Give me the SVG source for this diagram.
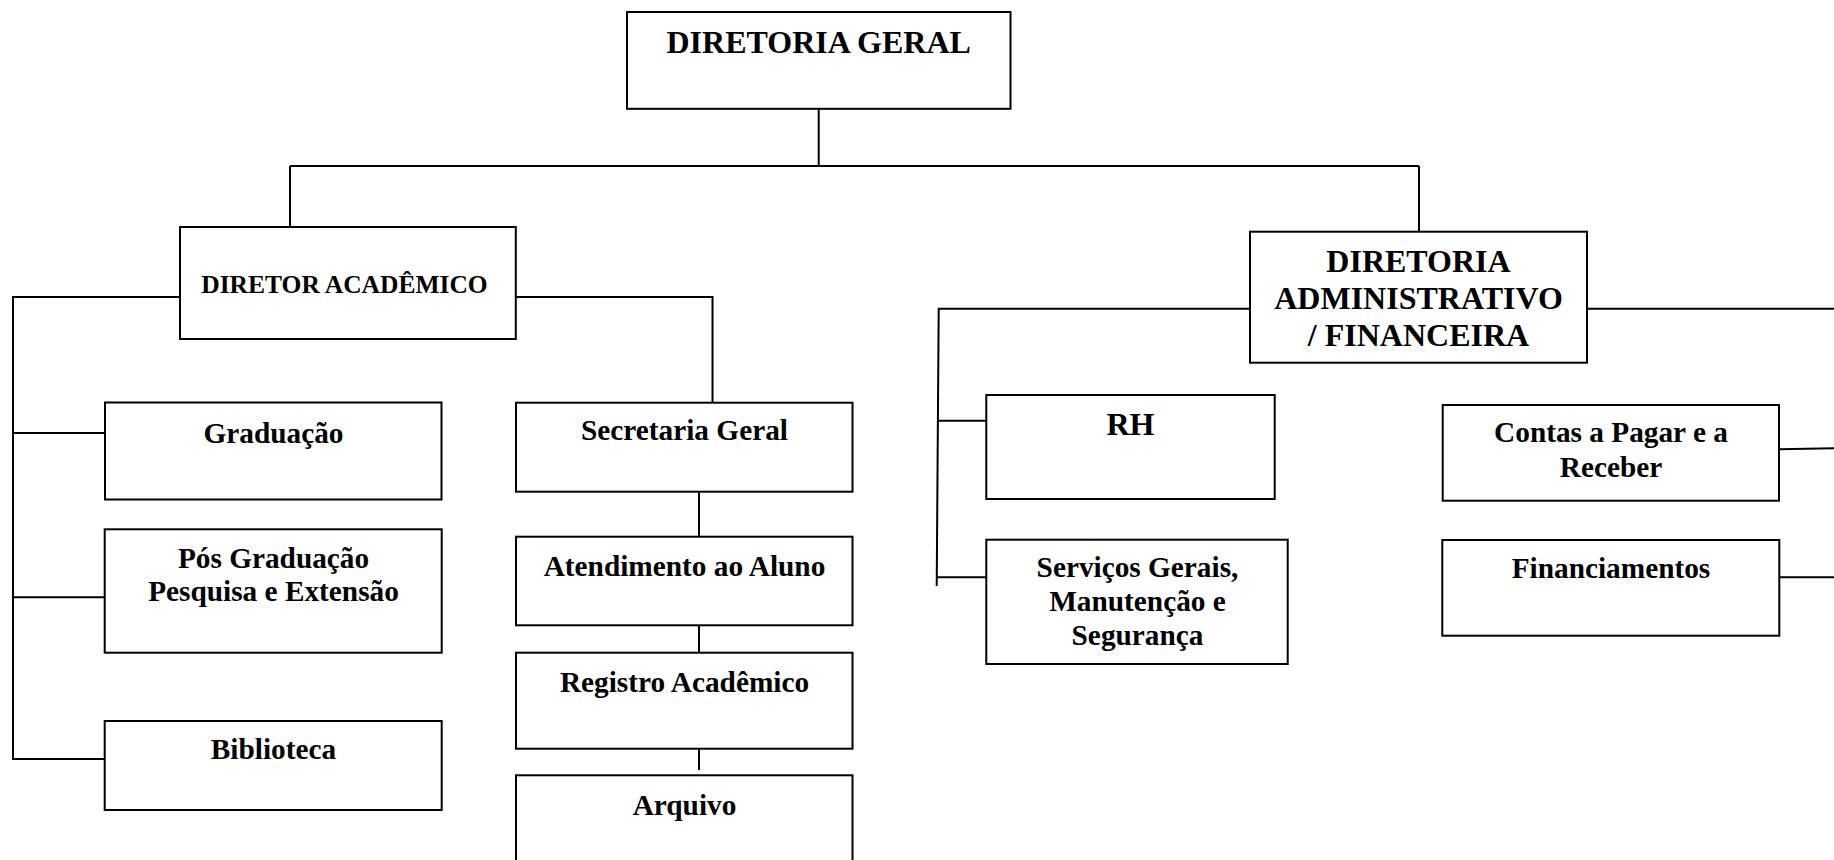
<svg xmlns="http://www.w3.org/2000/svg" width="1834" height="860" viewBox="0 0 1834 860">
<style>
.box{fill:#fff;stroke:#000;stroke-width:2}
.ln{fill:none;stroke:#000;stroke-width:2}
text{font-family:"Liberation Serif","Times New Roman",serif;font-weight:bold;fill:#000;text-anchor:middle}
.t29{font-size:29.3px}
.t32{font-size:32px}
.t25{font-size:25.5px}
</style>
<rect width="1834" height="860" fill="#fff"/>
<g id="connectors">
<path class="ln" d="M818.7,108.8 V166 M290,166 H1419 M290,166 V227 M1419,166 V231.6"/>
<path class="ln" d="M180,297 H13 V759 H104.7 M13,433 H105 M13,597.3 H104.7"/>
<path class="ln" d="M516,297 H712.5 V402.7"/>
<path class="ln" d="M699,491.7 V538 M699,625.3 V652.7 M699,745 V770"/>
<path class="ln" d="M1250,308.7 H938.7 L936.7,586 M938.2,420.7 H986.3 M937,577.3 H986.3"/>
<path class="ln" d="M1587,308.7 H1834 M1779,449.3 L1834,448.3 M1779.3,577.3 H1834"/>
</g>
<g id="n-diretoria-geral">
<rect class="box" x="627" y="12" width="383.5" height="96.8"/>
<text class="t32" x="818.7" y="52.7">DIRETORIA GERAL</text>
</g>
<g id="n-diretor-academico">
<rect class="box" x="180" y="227" width="335.8" height="112"/>
<text class="t25" x="344.5" y="293">DIRETOR ACADÊMICO</text>
</g>
<g id="n-graduacao">
<rect class="box" x="105" y="402.5" width="336.5" height="97"/>
<text class="t29" x="273.5" y="443">Graduação</text>
</g>
<g id="n-pos">
<rect class="box" x="104.7" y="529.3" width="337" height="123.4"/>
<text class="t29" x="273.5" y="568.3">Pós Graduação</text>
<text class="t29" x="273.5" y="601.3">Pesquisa e Extensão</text>
</g>
<g id="n-biblioteca">
<rect class="box" x="104.7" y="721" width="337" height="89"/>
<text class="t29" x="273.5" y="759.3">Biblioteca</text>
</g>
<g id="n-secretaria">
<rect class="box" x="516" y="402.7" width="336.5" height="89"/>
<text class="t29" x="684.5" y="440">Secretaria Geral</text>
</g>
<g id="n-atendimento">
<rect class="box" x="516" y="536.7" width="336.5" height="88.6"/>
<text class="t29" x="684.5" y="576">Atendimento ao Aluno</text>
</g>
<g id="n-registro">
<rect class="box" x="516" y="652.7" width="336.5" height="96"/>
<text class="t29" x="684.5" y="691.7">Registro Acadêmico</text>
</g>
<g id="n-arquivo">
<rect class="box" x="516" y="775.3" width="336.5" height="110"/>
<text class="t29" x="684.5" y="815">Arquivo</text>
</g>
<g id="n-diretoria-adm">
<rect class="box" x="1250" y="231.7" width="337" height="131"/>
<text class="t32" x="1418.5" y="271.7">DIRETORIA</text>
<text class="t32" x="1418.5" y="308.7">ADMINISTRATIVO</text>
<text class="t32" x="1418.5" y="345.7">/ FINANCEIRA</text>
</g>
<g id="n-rh">
<rect class="box" x="986.3" y="395" width="288.4" height="104"/>
<text class="t32" x="1130.5" y="435">RH</text>
</g>
<g id="n-servicos">
<rect class="box" x="986.3" y="539.7" width="301.4" height="124.3"/>
<text class="t29" x="1137.5" y="577.3">Serviços Gerais,</text>
<text class="t29" x="1137.5" y="611">Manutenção e</text>
<text class="t29" x="1137.5" y="645">Segurança</text>
</g>
<g id="n-contas">
<rect class="box" x="1442.7" y="405" width="336.3" height="95.7"/>
<text class="t29" x="1611" y="441.7">Contas a Pagar e a</text>
<text class="t29" x="1611" y="476.7">Receber</text>
</g>
<g id="n-financiamentos">
<rect class="box" x="1442.3" y="540" width="337" height="95.7"/>
<text class="t29" x="1611" y="578.3">Financiamentos</text>
</g>
</svg>
